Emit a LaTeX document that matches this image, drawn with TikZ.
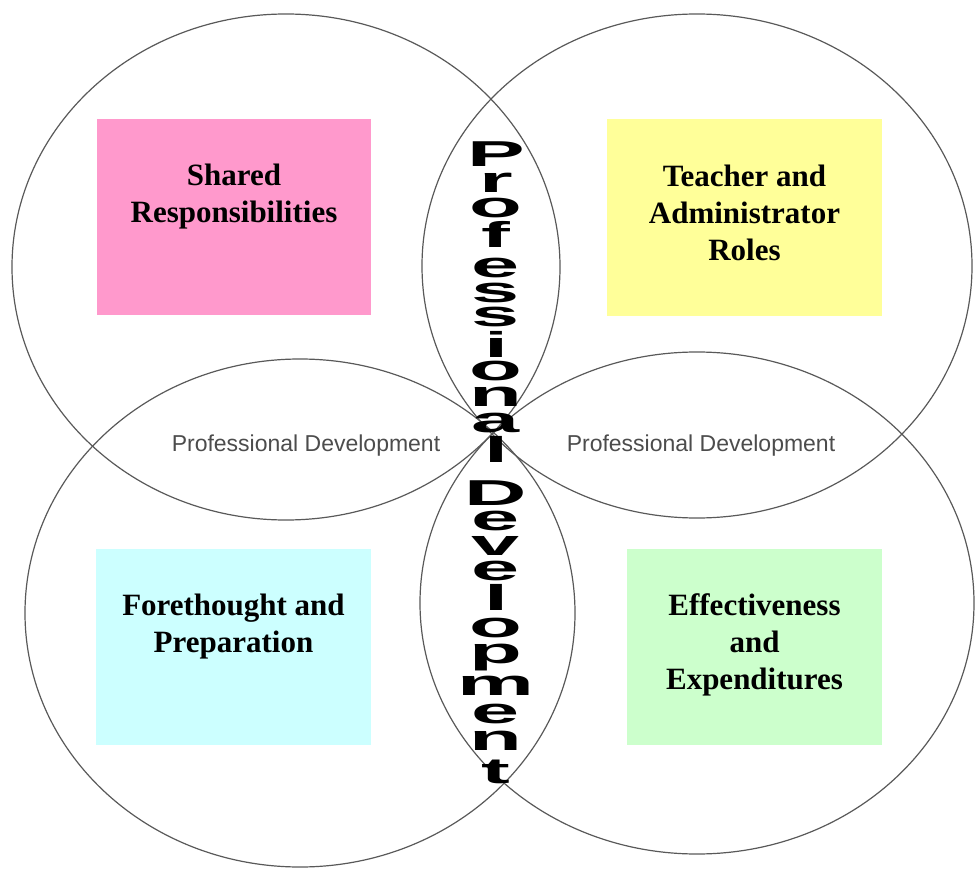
\documentclass[tikz,border=0pt]{standalone}
\usepackage{fontspec}
\usepackage{graphicx}
\setmainfont{Liberation Serif}
\setsansfont{Liberation Sans}
\usetikzlibrary{positioning}
\definecolor{pinkcard}{HTML}{FF99CC}
\definecolor{yellowcard}{HTML}{FFFF99}
\definecolor{cyancard}{HTML}{CCFFFF}
\definecolor{greencard}{HTML}{CCFFCC}
\tikzset{
    ring/.style={draw=black!65, line width=1.2pt},
    card/.style={rectangle, inner sep=0, minimum height=196pt},
    cardtext/.style={align=center, inner sep=0, font=\bfseries\fontsize{31}{37}\selectfont},
    pdlabel/.style={inner sep=0, text=black!70, font=\sffamily\fontsize{23}{27}\selectfont},
    stack/.style={anchor=base, inner sep=0, font=\sffamily\bfseries\fontsize{36}{36}\selectfont},
  }

\begin{document}
\begin{tikzpicture}[x=1pt, y=-1pt]
      \useasboundingbox (0,0) rectangle (975,869);
      \coordinate (tl) at (286,267);
      \coordinate (tr) at (697,266);
      \coordinate (bl) at (300,613);
      \coordinate (br) at (697,603);
      \draw[ring] (tl) ellipse [x radius=274pt, y radius=253pt];
      \draw[ring] (tr) ellipse [x radius=275pt, y radius=252pt];
      \draw[ring] (bl) ellipse [x radius=275pt, y radius=254pt];
      \draw[ring] (br) ellipse [x radius=277pt, y radius=251pt];

      \node (shared) [card, fill=pinkcard, minimum width=274pt] at (234,217) {};
      \node (roles) [card, fill=yellowcard, minimum width=275pt] at (744.5,217.5) {};
      \node (forethought) [card, fill=cyancard, minimum width=275pt] at (233.5,647) {};
      \node (effect) [card, fill=greencard, minimum width=255pt] at (754.5,647) {};

      \node (shared-txt) [cardtext, below=45pt of shared.north] {Shared\\Responsibilities};
      \node (roles-txt) [cardtext, below=45pt of roles.north] {Teacher and\\Administrator\\Roles};
      \node (forethought-txt) [cardtext, below=45pt of forethought.north] {Forethought and\\Preparation};
      \node (effect-txt) [cardtext, below=45pt of effect.north] {Effectiveness\\and\\Expenditures};

      \node (pd-left) [pdlabel] at (306,446) {Professional Development};
      \node (pd-right) [pdlabel] at (701,446) {Professional Development};

      % vertical title, one letter per line
      \foreach \ch/\yb [count=\i] in {P/167, r/193, o/218, f/248, e/277, s/302, s/326,
          i/357, o/380, n/406, a/432, l/462, D/505, e/530, v/555, e/580, l/610,
          o/637, p/663, m/695, e/723, n/750, t/783}
        \node (letter\i) [stack] at (496,\yb) {\scalebox{2.4}[1]{\ch}};
  \end{tikzpicture}
\end{document}
